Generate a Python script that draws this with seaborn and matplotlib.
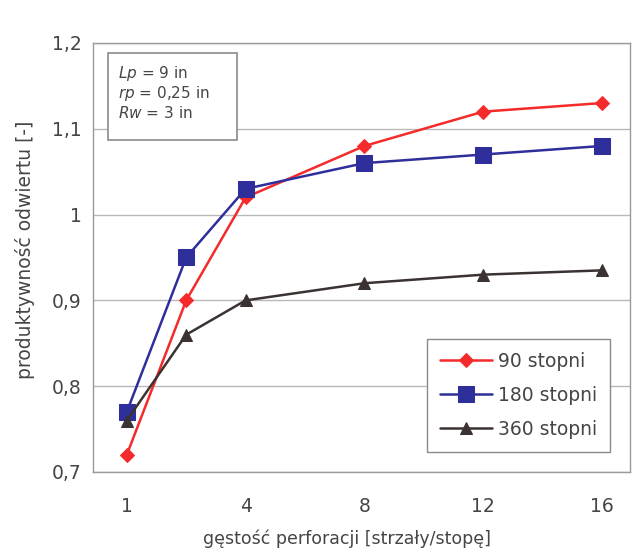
import matplotlib.pyplot as plt
import matplotlib.patches as mpatches
import seaborn as sns
import pandas as pd

# data
density = [1, 2, 4, 8, 12, 16]
axis_categories = [1, 2, 4, 6, 8, 10, 12, 14, 16]  # category axis, labels every 2nd
tick_labels = ['1', '4', '8', '12', '16']
series_names = ['90 stopni', '180 stopni', '360 stopni']
prod_90 = [0.72, 0.90, 1.02, 1.08, 1.12, 1.13]
prod_180 = [0.77, 0.95, 1.03, 1.06, 1.07, 1.08]
prod_360 = [0.76, 0.86, 0.90, 0.92, 0.93, 0.935]
y_ticks = [0.7, 0.8, 0.9, 1.0, 1.1, 1.2]
y_tick_labels = ['0,7', '0,8', '0,9', '1', '1,1', '1,2']
params = [r'$\mathit{Lp}$ = 9 in', r'$\mathit{rp}$ = 0,25 in', r'$\mathit{Rw}$ = 3 in']

sns.set_style('white')
plt.rcParams['font.family'] = ['DejaVu Sans']
plt.rcParams['mathtext.fontset'] = 'dejavusans'
text_col = '#454545'

rows = []
for name, vals in zip(series_names, [prod_90, prod_180, prod_360]):
    for d, v in zip(density, vals):
        rows.append({'seria': name, 'pos': axis_categories.index(d), 'prod': v})
df = pd.DataFrame(rows)

styles = {
    '90 stopni': dict(color='#f52a2a', marker='D', markersize=7),
    '180 stopni': dict(color='#2f2f9c', marker='s', markersize=12),
    '360 stopni': dict(color='#3a3331', marker='^', markersize=9),
}

fig = plt.figure(figsize=(6.32, 5.51), dpi=100)
ax = fig.add_axes([0.147, 0.1434, 0.850, 0.7786])

for name in series_names:
    st = styles[name]
    sns.lineplot(data=df[df['seria'] == name], x='pos', y='prod', ax=ax,
                 color=st['color'], marker=st['marker'], markersize=st['markersize'],
                 markeredgecolor=st['color'], markerfacecolor=st['color'],
                 linewidth=1.8, label=name)

ax.set_xlim(-0.57, 8.47)
ax.set_ylim(0.7, 1.2)
ax.set_xticks([axis_categories.index(int(t)) for t in tick_labels])
ax.set_xticklabels(tick_labels)
ax.set_yticks(y_ticks)
ax.set_yticklabels(y_tick_labels)
ax.tick_params(axis='both', labelsize=13.5, colors=text_col, length=0)
ax.tick_params(axis='x', pad=18)
ax.tick_params(axis='y', pad=8)
ax.yaxis.grid(True, color='#b8b8b8', linewidth=1)
ax.set_axisbelow(True)
for sp in ax.spines.values():
    sp.set_color('#9a9a9a')
    sp.set_linewidth(1)

ax.set_xlabel('gęstość perforacji [strzały/stopę]', fontsize=12.5, color=text_col)
ax.set_ylabel('produktywność odwiertu [-]', fontsize=13.5, color=text_col)
ax.xaxis.set_label_coords(0.473, -0.133)
ax.yaxis.set_label_coords(-0.108, 0.517)

leg = ax.legend(loc='lower right', bbox_to_anchor=(0.963, 0.047), fontsize=13.5,
                frameon=True, fancybox=False, edgecolor='#8a8a8a', framealpha=1,
                handlelength=2.8, labelspacing=0.8, borderpad=0.7, handletextpad=0.3,
                borderaxespad=0)
leg.get_frame().set_linewidth(1)
for t in leg.get_texts():
    t.set_color(text_col)

ax.add_patch(mpatches.Rectangle((0.028, 0.774), 0.240, 0.203, transform=ax.transAxes,
                                facecolor='white', edgecolor='#8a8a8a', linewidth=1.2, zorder=5))
for i, txt in enumerate(params):
    ax.text(0.047, 0.930 - i * 0.047, txt, transform=ax.transAxes, fontsize=11,
            color=text_col, va='center', ha='left', zorder=6)

fig.savefig('out.png', dpi=100)
